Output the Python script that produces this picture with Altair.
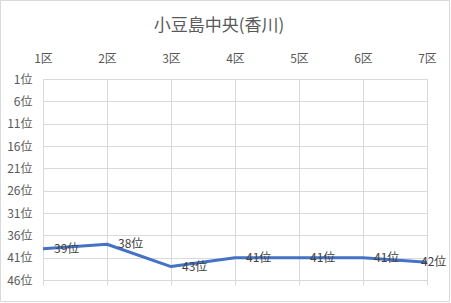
import altair as alt
import pandas as pd

sections = ["1区", "2区", "3区", "4区", "5区", "6区", "7区"]
ranks = [39, 38, 43, 41, 41, 41, 42]
rank_ticks = [1, 6, 11, 16, 21, 26, 31, 36, 41, 46]

df = pd.DataFrame({"section": sections, "rank": ranks, "idx": list(range(len(sections)))})

FONT = "Noto Sans CJK JP"
GRID = "#d9d9d9"
LABEL = "#595959"

base = alt.Chart(df).transform_calculate(label="datum.rank + '位'")

x_top = alt.X(
    "section:N",
    sort=sections,
    scale=alt.Scale(type="point", padding=0),
    axis=alt.Axis(
        orient="top", title=None, labelAngle=0, grid=True, gridColor=GRID,
        domain=False, ticks=False, labelPadding=14, labelColor=LABEL,
        labelFont=FONT, labelFontSize=12,
    ),
)
x_bottom = alt.X(
    "section:N",
    sort=sections,
    scale=alt.Scale(type="point", padding=0),
    axis=alt.Axis(
        orient="bottom", title=None, labels=False, grid=False, domain=False,
        ticks=True, tickSize=5, tickColor=GRID,
    ),
)
y_enc = alt.Y(
    "rank:Q",
    scale=alt.Scale(domain=[1, 46], reverse=True, nice=False, zero=False),
    axis=alt.Axis(
        values=rank_ticks, labelExpr="datum.value + '位'", title=None,
        grid=True, gridColor=GRID, domain=False, ticks=False, labelPadding=11,
        labelColor=LABEL, labelFont=FONT, labelFontSize=12, labelOverlap=False,
        tickCount=10,
    ),
)

line = base.mark_line(color="#4472C4", strokeWidth=3, strokeJoin="round").encode(
    x=x_top, y=y_enc
)

labels_main = base.transform_filter("datum.idx < 6").mark_text(
    align="left", baseline="middle", dx=11, font=FONT, fontSize=12, color="#404040"
).encode(x=x_bottom, y=y_enc, text="label:N")

labels_last = base.transform_filter("datum.idx == 6").mark_text(
    align="left", baseline="middle", dx=-6, font=FONT, fontSize=12, color="#404040"
).encode(x=alt.X("section:N", sort=sections, axis=None), y=y_enc, text="label:N")

border = alt.Chart(pd.DataFrame({"a": [0]})).mark_rect(
    fill=None, stroke=GRID, strokeWidth=1
).encode(
    x=alt.value(-42.5), x2=alt.value(406.5), y=alt.value(-78.5), y2=alt.value(222.5)
)

chart = alt.layer(line, labels_main, labels_last, border).resolve_axis(
    x="independent"
).properties(
    width=384,
    height=201,
    padding={"left": 43, "top": 79, "right": 24, "bottom": 23},
    autosize=alt.AutoSizeParams(type="none"),
    title=alt.TitleParams(
        "小豆島中央(香川)", font=FONT, fontSize=17, fontWeight="normal",
        color=LABEL, anchor="middle", dx=-16, offset=-35,
    ),
).configure_view(stroke=None).configure(background="white")

chart.save("out.html", embed_options={"renderer": "svg", "actions": False})
